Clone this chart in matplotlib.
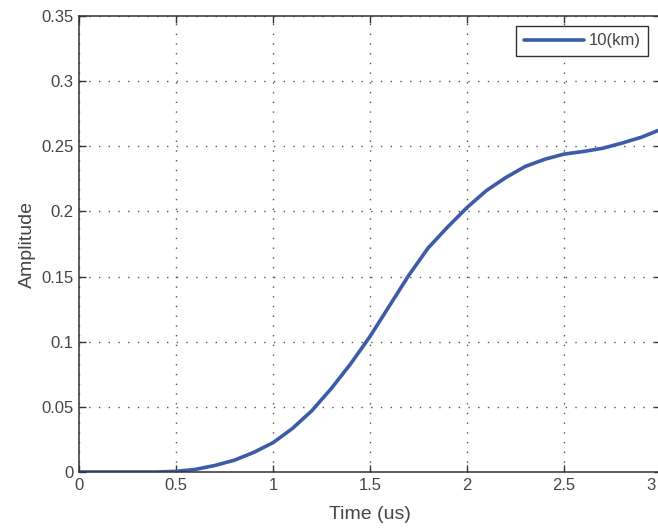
import matplotlib
matplotlib.use('Agg')
import matplotlib.pyplot as plt
from matplotlib.transforms import ScaledTranslation

# values
time_us = [0.0, 0.1, 0.2, 0.3, 0.4, 0.5, 0.6, 0.7, 0.8, 0.9,
           1.0, 1.1, 1.2, 1.3, 1.4, 1.5, 1.6, 1.7, 1.8, 1.9,
           2.0, 2.1, 2.2, 2.3, 2.4, 2.5, 2.6, 2.7, 2.8, 2.9, 3.0]
amplitude = [0.0, 0.0, 0.0, 0.0, 0.0, 0.0005, 0.002, 0.005, 0.009, 0.015,
             0.0225, 0.0334, 0.047, 0.064, 0.083, 0.104, 0.1275, 0.151, 0.172, 0.188,
             0.203, 0.216, 0.226, 0.2345, 0.240, 0.244, 0.246, 0.2485, 0.2525, 0.257, 0.263]
series_label = '10(km)'

x_ticks = [0, 0.5, 1, 1.5, 2, 2.5, 3]
x_tick_labels = ['0', '0.5', '1', '1.5', '2', '2.5', '3']
y_ticks = [0, 0.05, 0.1, 0.15, 0.2, 0.25, 0.3, 0.35]
y_tick_labels = ['0', '0.05', '0.1', '0.15', '0.2', '0.25', '0.3', '0.35']

TEXT_COLOR = '#454545'
LINE_COLOR = '#3c5ca8'

plt.rcParams['font.family'] = ['Liberation Sans', 'DejaVu Sans']
plt.rcParams['font.size'] = 12

fig = plt.figure(figsize=(6.58, 5.28), dpi=100)
W, H = 658, 528
ax = fig.add_axes([79 / W, 1 - 472 / H, (661 - 79) / W, (472 - 16) / H])

ax.plot(time_us, amplitude, color=LINE_COLOR, linewidth=2.6, label=series_label,
        solid_capstyle='round')

ax.set_xlim(0, 3)
ax.set_ylim(0, 0.35)
ax.set_xticks(x_ticks)
ax.set_xticklabels(x_tick_labels)
ax.set_yticks(y_ticks)
ax.set_yticklabels(y_tick_labels)

ax.grid(True, linestyle=(0, (1, 6)), color='#555555', linewidth=1.0)
ax.tick_params(direction='in', length=5, width=1, colors='#333333',
               labelcolor=TEXT_COLOR, labelsize=12, top=True, right=True, pad=4)
for spine in ax.spines.values():
    spine.set_color('#333333')
    spine.set_linewidth(1.1)

# the last x label sits on the cropped edge, keep it inside the picture
last = ax.get_xticklabels()[-1]
last.set_horizontalalignment('right')
last.set_transform(last.get_transform() + ScaledTranslation(-4 / 72, 0, fig.dpi_scale_trans))

ax.set_xlabel('Time (us)', color=TEXT_COLOR, fontsize=14, labelpad=10)
ax.set_ylabel('Amplitude', color=TEXT_COLOR, fontsize=14, labelpad=4)

legend = ax.legend(loc='upper right', bbox_to_anchor=(648 / W, 1 - 26 / H),
                   bbox_transform=fig.transFigure, borderaxespad=0,
                   fancybox=False, framealpha=1, edgecolor='#333333',
                   handlelength=3.6, handletextpad=0.3, borderpad=0.45,
                   fontsize=12)
for text in legend.get_texts():
    text.set_color(TEXT_COLOR)
legend.get_frame().set_linewidth(1.0)

fig.savefig('out.png', dpi=100)
plt.close(fig)
